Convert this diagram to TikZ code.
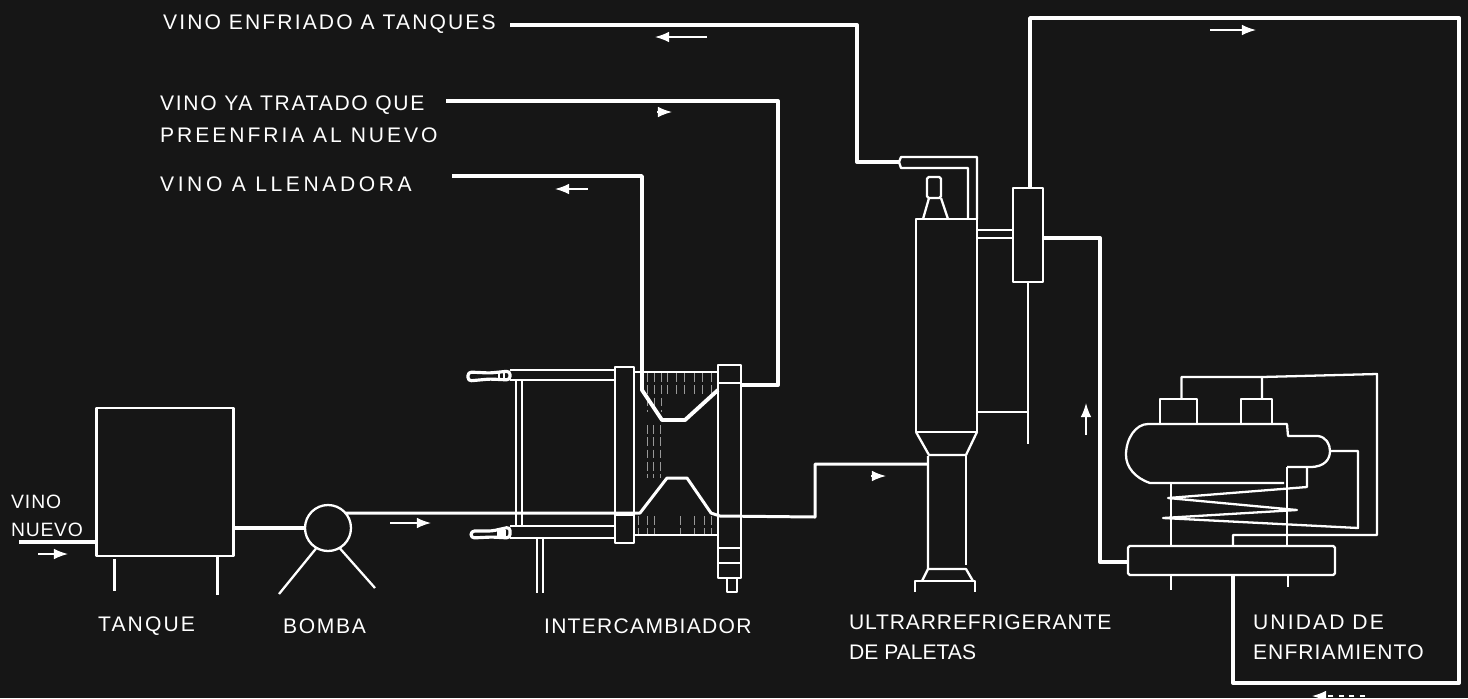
\documentclass[tikz,border=0pt]{standalone}
\usepackage{fontspec}
\setmainfont{Liberation Sans}
\usepackage{tikz}
\usetikzlibrary{arrows.meta,positioning,calc}
\definecolor{pizarra}{HTML}{161616}
\newcommand{\esp}[1]{\addfontfeature{LetterSpace=#1}}

\begin{document}
\begin{tikzpicture}[
    x=0.02cm, y=-0.02cm,
    color=white, line width=1.3pt, line join=round,
    equipo/.style={draw=white, line width=1.3pt, inner sep=0pt, outer sep=0pt, rectangle},
    tubo/.style={draw=white, line width=2.2pt},
    flecha/.style={draw=white, line width=0.8pt, -{Latex[length=8pt,width=6pt]}},
    rotulo/.style={text=white, font=\fontsize{12}{17}\selectfont, anchor=west, inner sep=0pt, align=left},
    rayado/.style={draw=white!60!black, line width=0.5pt, dash pattern=on 5pt off 2pt}
]
\fill[pizarra] (0,0) rectangle (1468,698);
\useasboundingbox (0,0) rectangle (1468,698);

% rotulos
\node[rotulo] (enfriado) at (162,24) {\esp{10}VINO ENFRIADO A TANQUES};
\node[rotulo] (tratado) at (159,119) {\esp{8}VINO YA TRATADO QUE\\[1pt]\esp{14}PREENFRIA AL NUEVO};
\node[rotulo] (llenadora) at (159,184) {\esp{17}VINO A LLENADORA};
\node[rotulo, font=\fontsize{11}{16}\selectfont] (nuevo) at (10,516) {\esp{5}VINO\\\esp{4}NUEVO};
\node[rotulo] (ltanque) at (97,626) {\esp{10}TANQUE};
\node[rotulo] (lbomba) at (282,626) {\esp{8}BOMBA};
\node[rotulo] (linter) at (543,626) {\esp{6}INTERCAMBIADOR};
\node[rotulo] (lultra) at (848,637) {\esp{4}ULTRARREFRIGERANTE\\DE PALETAS};
\node[rotulo] (lunidad) at (1252,637) {\esp{10}UNIDAD DE\\\esp{5}ENFRIAMIENTO};

% tanque y bomba
\node[equipo, minimum width=2.74cm, minimum height=2.96cm] (tanque) at (165,482) {};
\node[equipo, circle, minimum size=0.92cm] (bomba) at (328,528) {};
\draw (tanque.south west) ++(18,3) -- ++(0,32);
\draw (tanque.south east) ++(-16,1) -- ++(0,38);
\draw (bomba.240) -- (279,594);
\draw (bomba.300) -- (375,588);
\coordinate (entrada) at (19,542);
\draw[tubo] (entrada) -- (entrada -| tanque.west);
\draw[tubo] (bomba.west -| tanque.east) -- (bomba.west);

% intercambiador
\node[equipo, minimum width=0.38cm, minimum height=3.52cm] (marcoizq) at (624.5,455) {};
\node[equipo, minimum width=0.46cm, minimum height=4.26cm] (marcoder) at (729.5,471.5) {};
\node[equipo, minimum width=0.2cm, minimum height=0.28cm] (grifo) at (732,585) {};
\draw (marcoizq.west |- 0,515) -- (marcoizq.east |- 0,515);
\draw (marcoder.west |- 0,383) -- (marcoder.east |- 0,383);
\draw (marcoder.west |- 0,548) -- (marcoder.east |- 0,548);
\draw (marcoder.west |- 0,563) -- (marcoder.east |- 0,563);
\draw (634,372) -- (718,372);
\draw (634,535) -- (718,535);
\foreach \xp in {647,654,661,667,676,684,694,702,711}
    \draw[rayado] (\xp,373) -- (\xp,\fpeval{\xp<666 ? 412 : 395});
\foreach \xp in {638,647,654,680,694,704,711}
    \draw[rayado] (\xp,516) -- (\xp,534);
\foreach \xp in {647,653,660}
    \draw[rayado] (\xp,425) -- (\xp,478);
% barras y boquillas
\draw (510,370) -- (marcoizq.west |- 0,370);
\draw (510,380) -- (marcoizq.west |- 0,380);
\draw (510,526) -- (marcoizq.west |- 0,526);
\draw (510,538) -- (marcoizq.west |- 0,538);
\draw[line width=1.8pt, rounded corners=2pt] (468,372) -- (490,373) -- (510,371) -- (510,380) -- (490,379) -- (468,381) -- cycle;
\draw[line width=1.8pt, rounded corners=2pt] (471,531) -- (492,531) -- (510,527) -- (510,538) -- (492,537) -- (471,538) -- cycle;
\foreach \xp in {499,504}
    \draw (\xp,372) -- (\xp,380);
\fill (497,530) rectangle (506,537);
\draw (516,381) -- (516,526);
\draw (522,381) -- (522,526);
\draw (537,539) -- (537,593);
\draw (543,539) -- (543,593);

% ultrarrefrigerante
\node[equipo, minimum width=1.22cm, minimum height=4.26cm] (columna) at (946.5,325.5) {};
\node[equipo, minimum width=0.28cm, minimum height=0.42cm, rounded corners=1pt] (cabeza) at (934,187.5) {};
\node[equipo, minimum width=0.6cm, minimum height=1.88cm] (separador) at (1028,235) {};
\draw (923,219) -- (929,198);
\draw (941,198) -- (948,219);
\draw (columna.south west) -- (929,455) -- (966,455) -- (columna.south east);
\draw (928,456) -- (928,569) -- (922,581);
\draw (966,456) -- (966,565);
\draw (928,569) -- (966,569) -- (973,581);
\draw (915,592) -- (915,581) -- (975,581) -- (975,592);
\coordinate (camisa) at (899,162);
\draw (camisa) -- (901,157) -- (977,157) -- (977,219);
\draw (camisa) -- (901,168) -- (968,168) -- (968,219);
\draw (columna.east |- 0,230) -- (separador.west |- 0,230);
\draw (columna.east |- 0,238) -- (separador.west |- 0,238);
\coordinate (ramal) at (1028,412);
\draw (separador.south) -- (1028,444);
\draw (columna.east |- ramal) -- (ramal);

% unidad de enfriamiento
\node[equipo, rounded corners=1pt, minimum width=4.14cm, minimum height=0.58cm] (base) at (1231.5,560.5) {};
\node[equipo, minimum width=0.74cm, minimum height=0.5cm] (caja1) at (1178.5,411.5) {};
\node[equipo, minimum width=0.62cm, minimum height=0.5cm] (caja2) at (1256.5,411.5) {};
\coordinate (punta) at (1330,451);
\draw (1284,483) -- (1150,483) .. controls (1135,478) and (1126,467) .. (1126,455)
    .. controls (1126,438) and (1136,424) .. (1148,424) -- (1287,424) -- (1288,436) -- (1318,436)
    .. controls (1326,437) and (1330,444) .. (punta)
    .. controls (1330,459) and (1325,467) .. (1310,467) -- (1287,467);
\draw (caja1.north) ++(3,0) -- ++(0,-22) -- (1262,377) -- (1262,399);
\draw (1262,377) -- (1377,374) -- (1377,535) -- (1233,535) -- (1233,546);
\draw (punta) -- (1358,451) -- (1358,528) -- (1163,518) -- (1297,510) -- (1168,498) -- (1307,487) -- (1307,467);
\draw (1171,483) -- (1171,546);
\draw (1287,467) -- (1287,546);
\draw (1171,576) -- (1171,590);
\draw (1288,576) -- (1288,587);

% tuberias
\coordinate (ultraent) at (927,464);
\coordinate (llen) at (452,176);
\coordinate (trat) at (446,101);
\coordinate (enfr) at (510,25);
\coordinate (salida) at (1233,576);
\coordinate (retorno) at (1030,188);
\draw[tubo, line width=1.7pt] (bomba.40) -- (360,513) -- (640,513) -- (667,478) -- (687,478) -- (711,513) -- (720,516) -- (815,517) -- (815,464) -- (ultraent);
\draw[tubo] (llen) -- (642,176) -- (642,390) -- (662,420) -- (685,420) -- (718,390);
\draw[tubo] (marcoder.east |- 0,385) -- (778,385) -- (778,101) -- (trat);
\draw[tubo] (enfr) -- (857,25) -- (857,162) -- (camisa);
\draw[tubo] (retorno) -- (1030,18) -- (1459,18) -- (1459,683) -- (1233,683) -- (salida);
\draw[tubo] (separador.east |- 0,238) -- (1100,238) -- (1100,562) -- (base.west |- 0,562);

% flechas de flujo
\draw[flecha] (38,554) -- (68,554);
\draw[flecha] (390,523) -- (431,523);
\draw[flecha] (707,37) -- (655,37);
\draw[flecha] (1210,30) -- (1256,30);
\draw[flecha] (657,112) -- (672,112);
\draw[flecha] (588,189) -- (555,189);
\draw[flecha] (871,476) -- (886,476);
\draw[flecha] (1086,435) -- (1086,403);
\draw[flecha, dashed] (1365,696) -- (1312,696);
\end{tikzpicture}
\end{document}
